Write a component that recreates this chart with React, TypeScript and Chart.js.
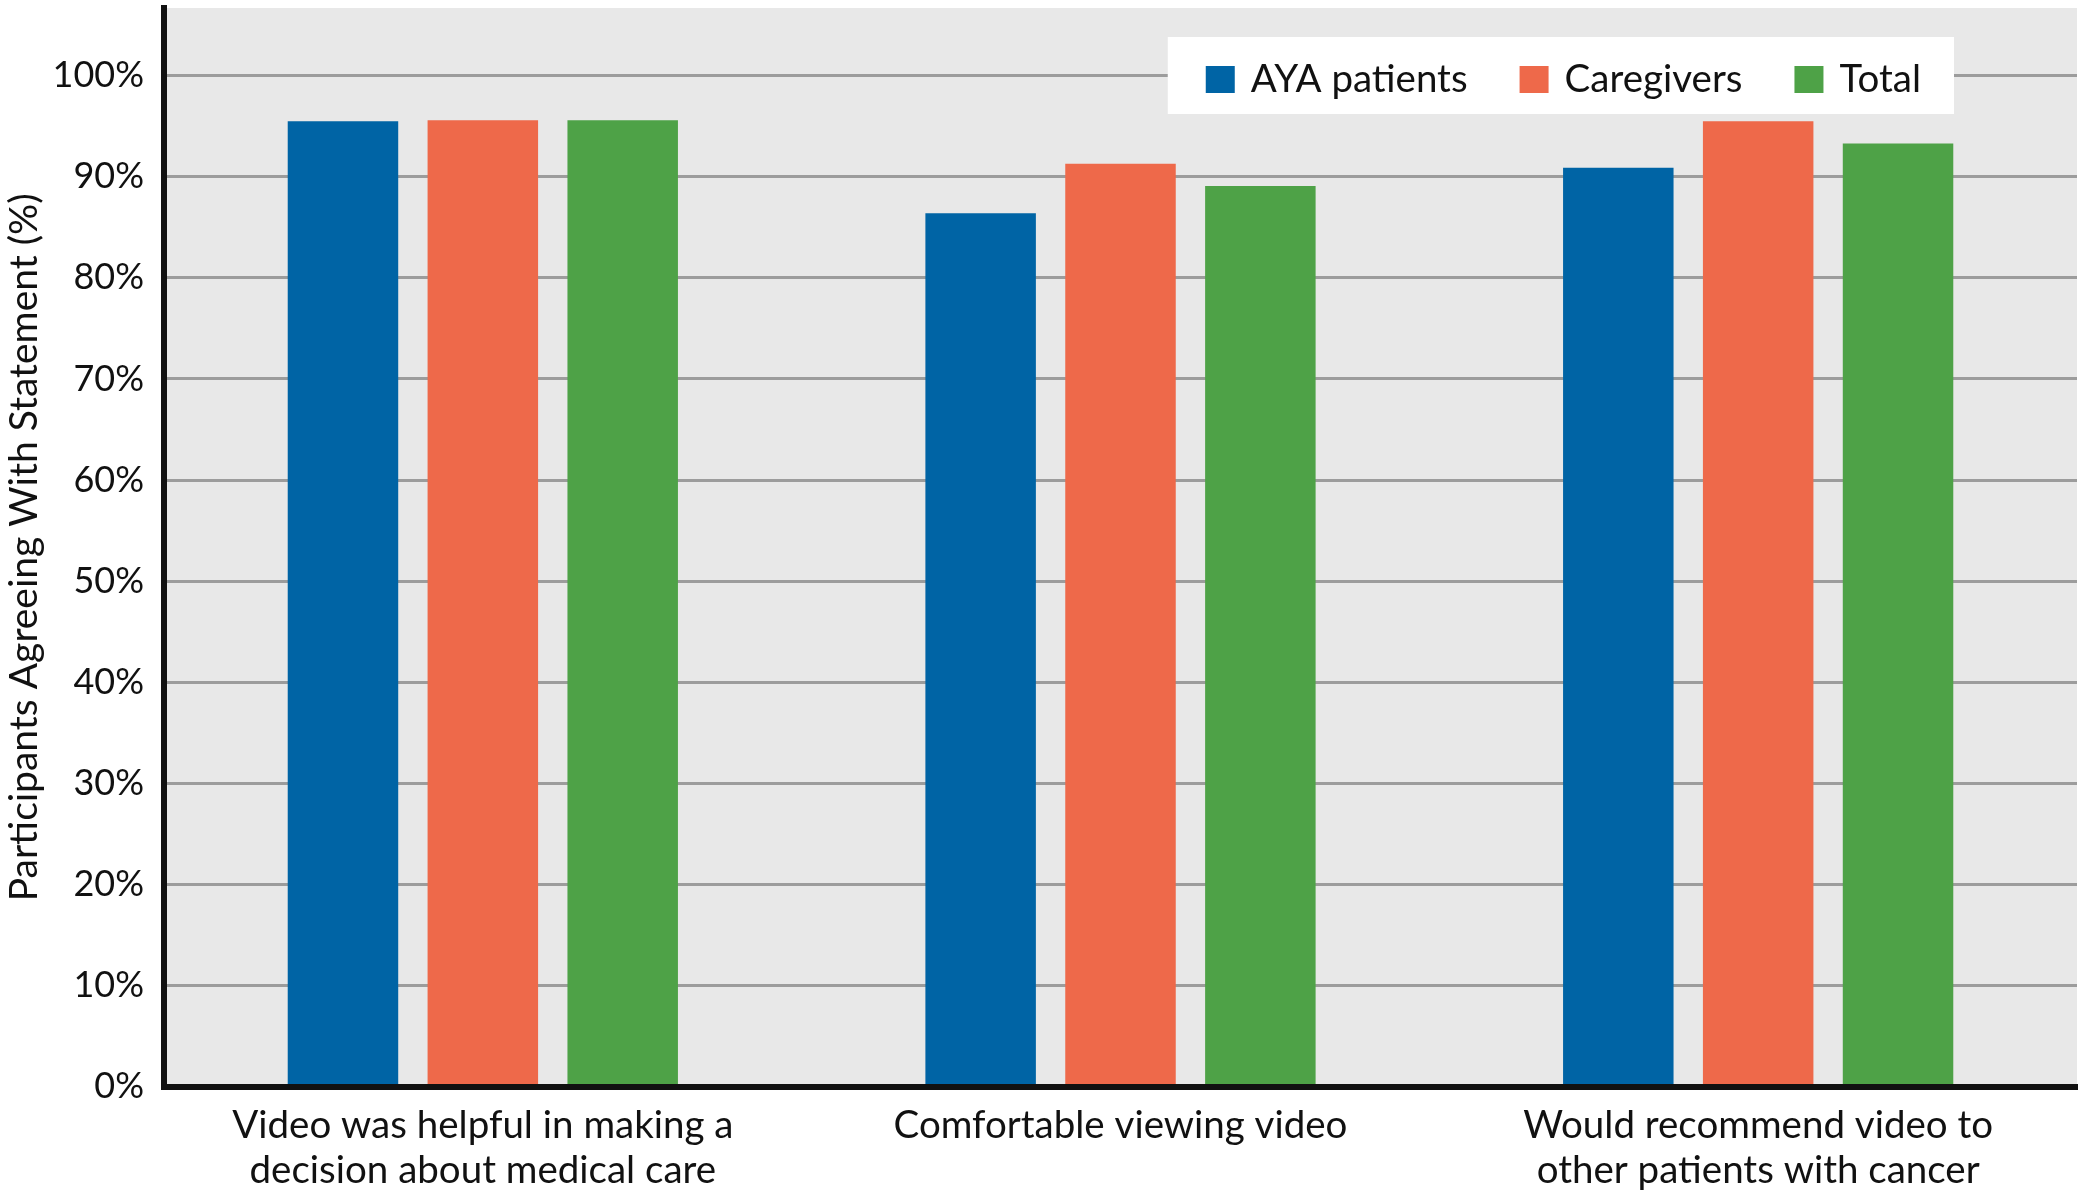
import { useEffect, useRef } from "react";
import { Chart, registerables } from "chart.js";

Chart.register(...registerables);

const CATEGORIES: string[][] = [
  ["Video was helpful in making a", "decision about medical care"],
  ["Comfortable viewing video"],
  ["Would recommend video to", "other patients with cancer"],
];
const SERIES_NAMES = ["AYA patients", "Caregivers", "Total"];
const AYA_PATIENTS = [95.5, 86.4, 90.9];
const CAREGIVERS = [95.6, 91.3, 95.5];
const TOTAL = [95.6, 89.1, 93.3];
const SERIES_COLORS = ["#0064a5", "#ee694a", "#4ea247"];
const Y_TICKS = [0, 10, 20, 30, 40, 50, 60, 70, 80, 90, 100];
const Y_TITLE = "Participants Agreeing With Statement (%)";

const FONT = "Lato, 'Open Sans', sans-serif";

const plotBackground = {
  id: "plotBackground",
  beforeDraw(chart: any) {
    const { ctx, chartArea } = chart;
    ctx.save();
    ctx.fillStyle = "#e8e8e8";
    ctx.fillRect(chartArea.left, chartArea.top, chartArea.right - chartArea.left, chartArea.bottom - chartArea.top);
    ctx.restore();
  },
};

const legendBox = {
  id: "legendBox",
  afterDatasetsDraw(chart: any) {
    const { ctx, chartArea } = chart;
    const ds = chart.data.datasets;
    ctx.save();
    ctx.font = `38.5px ${FONT}`;
    const sqW = 29;
    const sqH = 27;
    const gapText = 16;
    const itemGap = 52;
    const padL = 38;
    const padR = 33;
    const widths = ds.map((d: any) => ctx.measureText(d.label).width);
    let total = padL + padR + itemGap * (ds.length - 1);
    widths.forEach((w: number) => (total += sqW + gapText + w));
    const right = chartArea.right - 123;
    const left = right - total;
    const top = chartArea.top + 29;
    const h = 77;
    ctx.fillStyle = "#ffffff";
    ctx.fillRect(left, top, total, h);
    let x = left + padL;
    const baseY = top + 55;
    ds.forEach((d: any, i: number) => {
      ctx.fillStyle = d.backgroundColor;
      ctx.fillRect(x, top + 29, sqW, sqH);
      x += sqW + gapText;
      ctx.fillStyle = "#111111";
      ctx.textBaseline = "alphabetic";
      ctx.textAlign = "left";
      ctx.fillText(d.label, x, baseY);
      x += widths[i] + itemGap;
    });
    ctx.restore();
  },
};

export default function App() {
  const canvasRef = useRef<HTMLCanvasElement | null>(null);

  useEffect(() => {
    document.body.style.margin = "0";
    const canvas = canvasRef.current;
    if (!canvas) return;
    const seriesValues = [AYA_PATIENTS, CAREGIVERS, TOTAL];
    const chart = new Chart(canvas, {
      type: "bar",
      data: {
        labels: CATEGORIES,
        datasets: SERIES_NAMES.map((name, i) => ({
          label: name,
          data: seriesValues[i],
          backgroundColor: SERIES_COLORS[i],
          borderWidth: 0,
          categoryPercentage: 0.658,
          barPercentage: 0.79,
        })),
      },
      options: {
        animation: false,
        responsive: true,
        maintainAspectRatio: false,
        devicePixelRatio: 1,
        layout: { padding: { top: 8, right: 8, left: 0, bottom: 0 } },
        plugins: {
          legend: { display: false },
          tooltip: { enabled: false },
        },
        scales: {
          x: {
            grid: { display: false },
            border: { display: true, color: "#111111", width: 6, z: 1 },
            ticks: {
              color: "#111111",
              font: { family: FONT, size: 38.5, lineHeight: 1.18 },
              padding: 8,
              maxRotation: 0,
              autoSkip: false,
            },
            afterFit(scale: any) {
              scale.height = 111.5;
              scale.paddingLeft = 0;
              scale.paddingRight = 0;
              scale.paddingTop = 0;
              scale.paddingBottom = 0;
            },
          },
          y: {
            min: 0,
            max: 106.7,
            afterBuildTicks(scale: any) {
              scale.ticks = Y_TICKS.map((v) => ({ value: v }));
            },
            afterFit(scale: any) {
              scale.width = 164;
              scale.paddingTop = 0;
              scale.paddingBottom = 0;
              scale.paddingLeft = 0;
              scale.paddingRight = 0;
            },
            grid: { color: "#9c9c9c", lineWidth: 3, drawTicks: false },
            border: { display: true, color: "#111111", width: 6 },
            ticks: {
              color: "#111111",
              font: { family: FONT, size: 36 },
              padding: 20,
              callback: (v: any) => `${v}%`,
            },
            title: {
              display: true,
              text: Y_TITLE,
              color: "#111111",
              font: { family: FONT, size: 39, lineHeight: 1.2 },
              padding: { top: 1, bottom: 0 },
            },
          },
        },
      },
      plugins: [plotBackground, legendBox],
    });
    return () => chart.destroy();
  }, []);

  return (
    <div style={{ width: "2085px", height: "1198px", position: "relative", background: "#ffffff" }}>
      <canvas ref={canvasRef} />
    </div>
  );
}
